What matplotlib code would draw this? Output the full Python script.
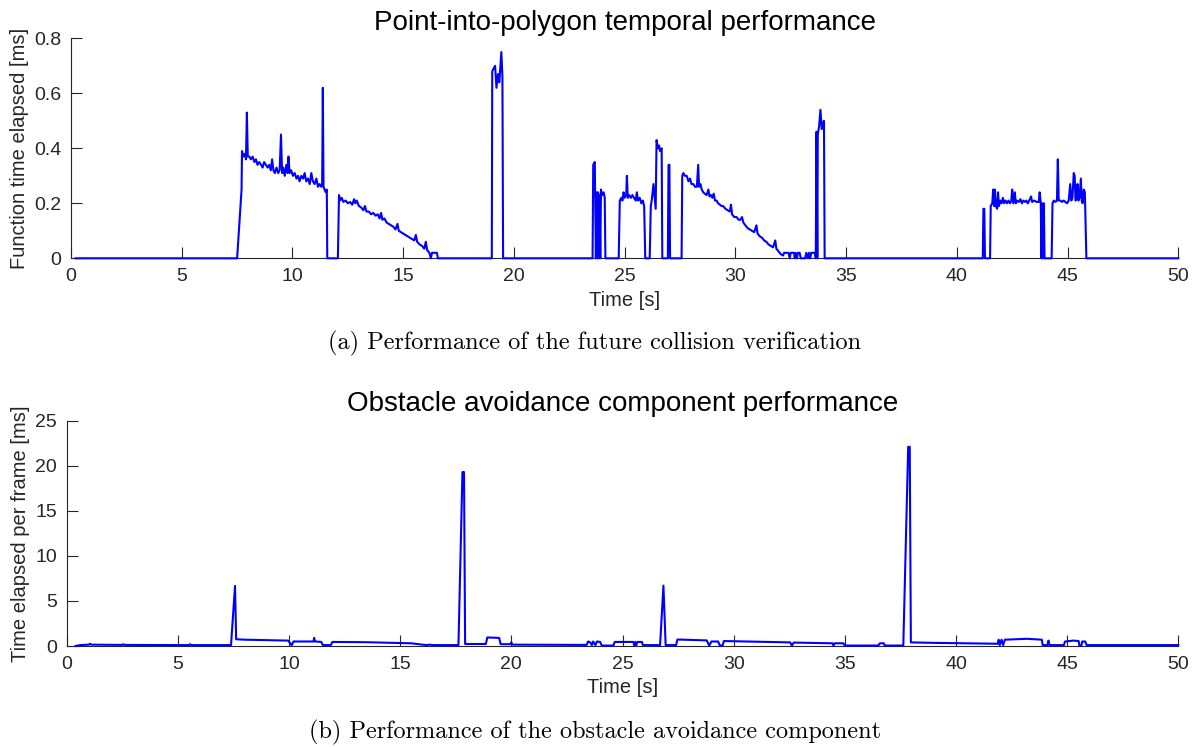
import matplotlib
matplotlib.use("Agg")
import matplotlib.pyplot as plt

plt.rcParams['font.family'] = ['Liberation Sans', 'DejaVu Sans']

# --- future collision verification (point-into-polygon), time [s] / ms ---
idle_start = [(0.2, 0.0), (7.45, 0.0)]
burst_8s = [(7.5, 0.0), (7.7, 0.25), (7.72, 0.39), (7.78, 0.37), (7.85, 0.38), (7.9, 0.36),
            (7.94, 0.53), (7.98, 0.37), (8.05, 0.37), (8.12, 0.36), (8.2, 0.37), (8.28, 0.35),
            (8.35, 0.36), (8.42, 0.34), (8.5, 0.35), (8.58, 0.34), (8.65, 0.33), (8.72, 0.35),
            (8.8, 0.34), (8.88, 0.33), (8.95, 0.34), (9.02, 0.32), (9.08, 0.36), (9.14, 0.32),
            (9.2, 0.31), (9.28, 0.33), (9.35, 0.31), (9.42, 0.32), (9.48, 0.45), (9.53, 0.31),
            (9.58, 0.33), (9.65, 0.30), (9.72, 0.34), (9.78, 0.31), (9.82, 0.37), (9.87, 0.31),
            (9.94, 0.32), (10.02, 0.30), (10.1, 0.31), (10.18, 0.29), (10.25, 0.30), (10.32, 0.28),
            (10.4, 0.30), (10.48, 0.29), (10.55, 0.31), (10.62, 0.28), (10.7, 0.29), (10.78, 0.27),
            (10.85, 0.31), (10.92, 0.28), (11.0, 0.27), (11.08, 0.29), (11.15, 0.26), (11.22, 0.27),
            (11.3, 0.26), (11.34, 0.27), (11.37, 0.62), (11.4, 0.26), (11.45, 0.25), (11.5, 0.24),
            (11.55, 0.25), (11.57, 0.0)]
burst_12s = [(12.05, 0.0), (12.1, 0.23), (12.15, 0.21), (12.22, 0.22), (12.3, 0.205), (12.4, 0.21),
             (12.5, 0.20), (12.6, 0.205), (12.7, 0.195), (12.78, 0.215), (12.84, 0.20), (12.9, 0.21),
             (13.0, 0.19), (13.1, 0.185), (13.2, 0.175), (13.27, 0.19), (13.34, 0.17), (13.45, 0.17),
             (13.55, 0.16), (13.65, 0.165), (13.75, 0.155), (13.85, 0.16), (13.93, 0.145), (14.0, 0.165),
             (14.06, 0.14), (14.15, 0.145), (14.25, 0.13), (14.35, 0.125), (14.45, 0.12), (14.55, 0.115),
             (14.65, 0.105), (14.74, 0.125), (14.8, 0.10), (14.9, 0.095), (15.0, 0.09), (15.1, 0.085),
             (15.2, 0.08), (15.3, 0.075), (15.4, 0.07), (15.5, 0.065), (15.57, 0.085), (15.63, 0.06),
             (15.75, 0.05), (15.85, 0.045), (15.95, 0.035), (16.02, 0.06), (16.08, 0.03), (16.18, 0.02),
             (16.25, 0.0), (16.3, 0.02), (16.52, 0.02), (16.57, 0.0)]
burst_19s = [(19.0, 0.0), (19.02, 0.68), (19.08, 0.69), (19.15, 0.70), (19.21, 0.62), (19.28, 0.67),
             (19.34, 0.64), (19.43, 0.75), (19.48, 0.66), (19.51, 0.0)]
burst_24s = [(23.55, 0.0), (23.58, 0.34), (23.65, 0.35), (23.7, 0.0), (23.73, 0.24), (23.76, 0.0),
             (23.8, 0.24), (23.83, 0.0), (23.86, 0.23), (23.9, 0.0), (23.93, 0.25), (23.98, 0.23),
             (24.05, 0.24), (24.1, 0.22), (24.13, 0.0), (24.73, 0.0), (24.78, 0.21), (24.85, 0.22),
             (24.9, 0.21), (24.95, 0.24), (25.0, 0.22), (25.07, 0.23), (25.1, 0.30), (25.14, 0.22),
             (25.2, 0.23), (25.28, 0.22), (25.35, 0.23), (25.42, 0.22), (25.5, 0.21), (25.55, 0.24),
             (25.6, 0.21), (25.68, 0.22), (25.75, 0.20), (25.82, 0.21), (25.88, 0.19), (25.93, 0.0),
             (26.13, 0.0), (26.18, 0.19), (26.22, 0.21), (26.3, 0.27), (26.4, 0.18), (26.44, 0.43),
             (26.5, 0.40), (26.55, 0.41), (26.6, 0.39), (26.67, 0.40), (26.7, 0.0), (26.95, 0.0),
             (26.98, 0.34), (27.02, 0.34), (27.05, 0.0)]
burst_28s = [(27.57, 0.0), (27.6, 0.30), (27.65, 0.31), (27.72, 0.30), (27.8, 0.30), (27.88, 0.28),
             (27.95, 0.29), (28.02, 0.27), (28.1, 0.27), (28.18, 0.26), (28.26, 0.26), (28.32, 0.34),
             (28.36, 0.26), (28.42, 0.27), (28.48, 0.25), (28.55, 0.24), (28.62, 0.235), (28.7, 0.23),
             (28.78, 0.25), (28.83, 0.225), (28.9, 0.23), (28.96, 0.22), (29.02, 0.235), (29.08, 0.21),
             (29.15, 0.21), (29.22, 0.20), (29.3, 0.195), (29.38, 0.19), (29.45, 0.19), (29.55, 0.18),
             (29.65, 0.175), (29.75, 0.17), (29.8, 0.195), (29.85, 0.16), (29.95, 0.15), (30.05, 0.15),
             (30.15, 0.14), (30.22, 0.14), (30.3, 0.15), (30.36, 0.13), (30.45, 0.12), (30.55, 0.11),
             (30.65, 0.105), (30.75, 0.10), (30.85, 0.095), (30.95, 0.12), (31.0, 0.09), (31.1, 0.08),
             (31.2, 0.075), (31.3, 0.065), (31.4, 0.06), (31.5, 0.05), (31.6, 0.045), (31.7, 0.04),
             (31.8, 0.065), (31.85, 0.035), (31.95, 0.025), (32.05, 0.015), (32.15, 0.01), (32.2, 0.02),
             (32.4, 0.02), (32.45, 0.0), (32.5, 0.02), (32.65, 0.02), (32.68, 0.0), (32.72, 0.02),
             (32.78, 0.0), (32.82, 0.02), (32.9, 0.02), (32.95, 0.0), (33.15, 0.0), (33.2, 0.02),
             (33.28, 0.0), (33.32, 0.02), (33.38, 0.0), (33.42, 0.02), (33.6, 0.02), (33.63, 0.0),
             (33.66, 0.46), (33.7, 0.0), (33.72, 0.45), (33.78, 0.48), (33.84, 0.54), (33.9, 0.47),
             (33.95, 0.49), (34.0, 0.50), (34.03, 0.0)]
burst_43s = [(41.17, 0.0), (41.2, 0.18), (41.24, 0.18), (41.27, 0.0), (41.5, 0.0), (41.53, 0.19),
             (41.6, 0.20), (41.64, 0.25), (41.68, 0.19), (41.72, 0.25), (41.76, 0.19), (41.82, 0.18),
             (41.86, 0.24), (41.9, 0.19), (41.96, 0.21), (42.02, 0.20), (42.08, 0.22), (42.14, 0.20),
             (42.2, 0.21), (42.27, 0.20), (42.33, 0.21), (42.4, 0.20), (42.46, 0.21), (42.5, 0.25),
             (42.55, 0.20), (42.62, 0.24), (42.66, 0.20), (42.72, 0.21), (42.8, 0.205), (42.87, 0.215),
             (42.94, 0.20), (43.0, 0.21), (43.07, 0.205), (43.14, 0.21), (43.2, 0.20), (43.27, 0.21),
             (43.35, 0.225), (43.4, 0.205), (43.5, 0.21), (43.6, 0.205), (43.7, 0.205), (43.74, 0.24),
             (43.79, 0.20), (43.82, 0.0), (43.85, 0.20), (43.9, 0.0), (43.93, 0.20), (43.96, 0.0),
             (44.28, 0.0), (44.32, 0.20), (44.38, 0.21), (44.45, 0.205), (44.52, 0.21), (44.56, 0.36),
             (44.6, 0.21), (44.68, 0.21), (44.75, 0.205), (44.82, 0.21), (44.9, 0.205), (44.98, 0.20),
             (45.05, 0.21), (45.12, 0.27), (45.17, 0.21), (45.22, 0.22), (45.28, 0.31), (45.32, 0.30),
             (45.36, 0.21), (45.4, 0.22), (45.45, 0.27), (45.49, 0.21), (45.54, 0.22), (45.6, 0.29),
             (45.64, 0.21), (45.68, 0.20), (45.73, 0.25), (45.78, 0.24), (45.85, 0.0)]
idle_end = [(50.0, 0.0)]

# --- obstacle avoidance component, time [s] / ms per frame ---
avoidance = [(0.4, 0.0), (0.6, 0.1), (1.0, 0.15), (1.05, 0.25), (1.1, 0.15), (2.5, 0.12), (2.55, 0.2),
             (2.6, 0.12), (5.5, 0.1), (5.55, 0.2), (5.6, 0.1), (7.39, 0.1), (7.57, 6.67), (7.62, 0.75),
             (8.0, 0.7), (9.96, 0.6), (10.12, 0.1), (10.2, 0.5), (11.1, 0.5), (11.13, 0.9), (11.17, 0.5),
             (11.45, 0.45), (11.52, 0.1), (11.88, 0.1), (11.95, 0.45), (13.5, 0.42), (15.5, 0.3),
             (16.0, 0.15), (16.2, 0.1), (16.3, 0.15), (16.5, 0.1), (17.62, 0.1), (17.8, 19.3),
             (17.87, 19.3), (17.92, 0.22), (18.85, 0.22), (18.92, 0.95), (19.45, 0.9), (19.52, 0.2),
             (19.95, 0.2), (20.0, 0.4), (20.05, 0.15), (23.39, 0.12), (23.45, 0.5), (23.55, 0.4),
             (23.62, 0.1), (23.68, 0.5), (23.78, 0.1), (23.85, 0.5), (23.99, 0.45), (24.07, 0.05),
             (24.59, 0.05), (24.65, 0.45), (25.49, 0.45), (25.53, 0.05), (25.58, 0.45), (25.62, 0.1),
             (25.68, 0.45), (25.87, 0.45), (25.92, 0.1), (26.69, 0.1), (26.84, 6.7), (26.94, 0.1),
             (27.41, 0.1), (27.47, 0.72), (28.79, 0.62), (28.9, 0.05), (29.0, 0.5), (29.3, 0.5),
             (29.38, 0.05), (29.5, 0.05), (29.56, 0.55), (32.54, 0.4), (32.62, 0.05), (32.7, 0.38),
             (34.45, 0.3), (34.49, 0.05), (34.55, 0.3), (34.93, 0.3), (35.0, 0.05), (36.5, 0.05),
             (36.58, 0.3), (36.75, 0.3), (36.8, 0.05), (37.63, 0.05), (37.85, 22.1), (37.92, 22.1),
             (37.97, 0.4), (39.0, 0.35), (41.88, 0.25), (41.92, 0.7), (41.97, 0.1), (42.05, 0.7),
             (42.12, 0.1), (42.2, 0.7), (43.19, 0.8), (43.86, 0.7), (43.9, 0.1), (44.11, 0.1),
             (44.16, 0.6), (44.2, 0.1), (44.85, 0.1), (44.91, 0.5), (45.29, 0.6), (45.52, 0.55),
             (45.55, 0.05), (45.64, 0.05), (45.68, 0.5), (45.81, 0.5), (45.88, 0.1), (50.0, 0.1)]

collision = idle_start + burst_8s + burst_12s + burst_19s + burst_24s + burst_28s + burst_43s + idle_end
t_col = [p[0] for p in collision]
v_col = [p[1] for p in collision]
t_avo = [p[0] for p in avoidance]
v_avo = [p[1] for p in avoidance]

axis_col = '#262626'

fig = plt.figure(figsize=(11.96, 7.47), dpi=100)
fig.patch.set_facecolor('white')


def style(ax, yticks, ylabels):
    ax.spines['top'].set_visible(False)
    ax.spines['right'].set_visible(False)
    for s in ('left', 'bottom'):
        ax.spines[s].set_color(axis_col)
        ax.spines[s].set_linewidth(0.8)
    ax.set_xlim(0, 50)
    ax.set_xticks(range(0, 51, 5))
    ax.set_yticks(yticks)
    ax.set_yticklabels(ylabels)
    ax.tick_params(direction='in', length=8, width=0.8, colors=axis_col,
                   labelsize=14, pad=7)
    for lab in ax.get_xticklabels() + ax.get_yticklabels():
        lab.set_color(axis_col)


ax1 = fig.add_axes([0.0594, 0.6542, 0.9258, 0.2945])
ax1.plot(t_col, v_col, color='#0000ff', lw=1.5, clip_on=False, zorder=3)
ax1.set_ylim(0, 0.8)
style(ax1, [0, 0.2, 0.4, 0.6, 0.8], ['0', '0.2', '0.4', '0.6', '0.8'])
ax1.set_title('Point-into-polygon temporal performance', fontsize=20, pad=6)
ax1.set_xlabel('Time [s]', fontsize=14.5, color=axis_col, labelpad=4)
ax1.set_ylabel('Function time elapsed [ms]', fontsize=14.5, color=axis_col, labelpad=4)

ax2 = fig.add_axes([0.0558, 0.1352, 0.9294, 0.3016])
ax2.plot(t_avo, v_avo, color='#0000ff', lw=1.5, clip_on=False, zorder=3)
ax2.set_ylim(0, 25)
style(ax2, [0, 5, 10, 15, 20, 25], ['0', '5', '10', '15', '20', '25'])
ax2.set_title('Obstacle avoidance component performance', fontsize=20, pad=7)
ax2.set_xlabel('Time [s]', fontsize=14.5, color=axis_col, labelpad=4)
ax2.set_ylabel('Time elapsed per frame [ms]', fontsize=14.5, color=axis_col, labelpad=4)

fig.text(595 / 1196, 1 - 343 / 747, '(a) Performance of the future collision verification',
         family='cmr10', fontsize=17.5, ha='center', va='center')
fig.text(595 / 1196, 1 - 732 / 747, '(b) Performance of the obstacle avoidance component',
         family='cmr10', fontsize=17.5, ha='center', va='center')

fig.savefig('out.png', dpi=100)
